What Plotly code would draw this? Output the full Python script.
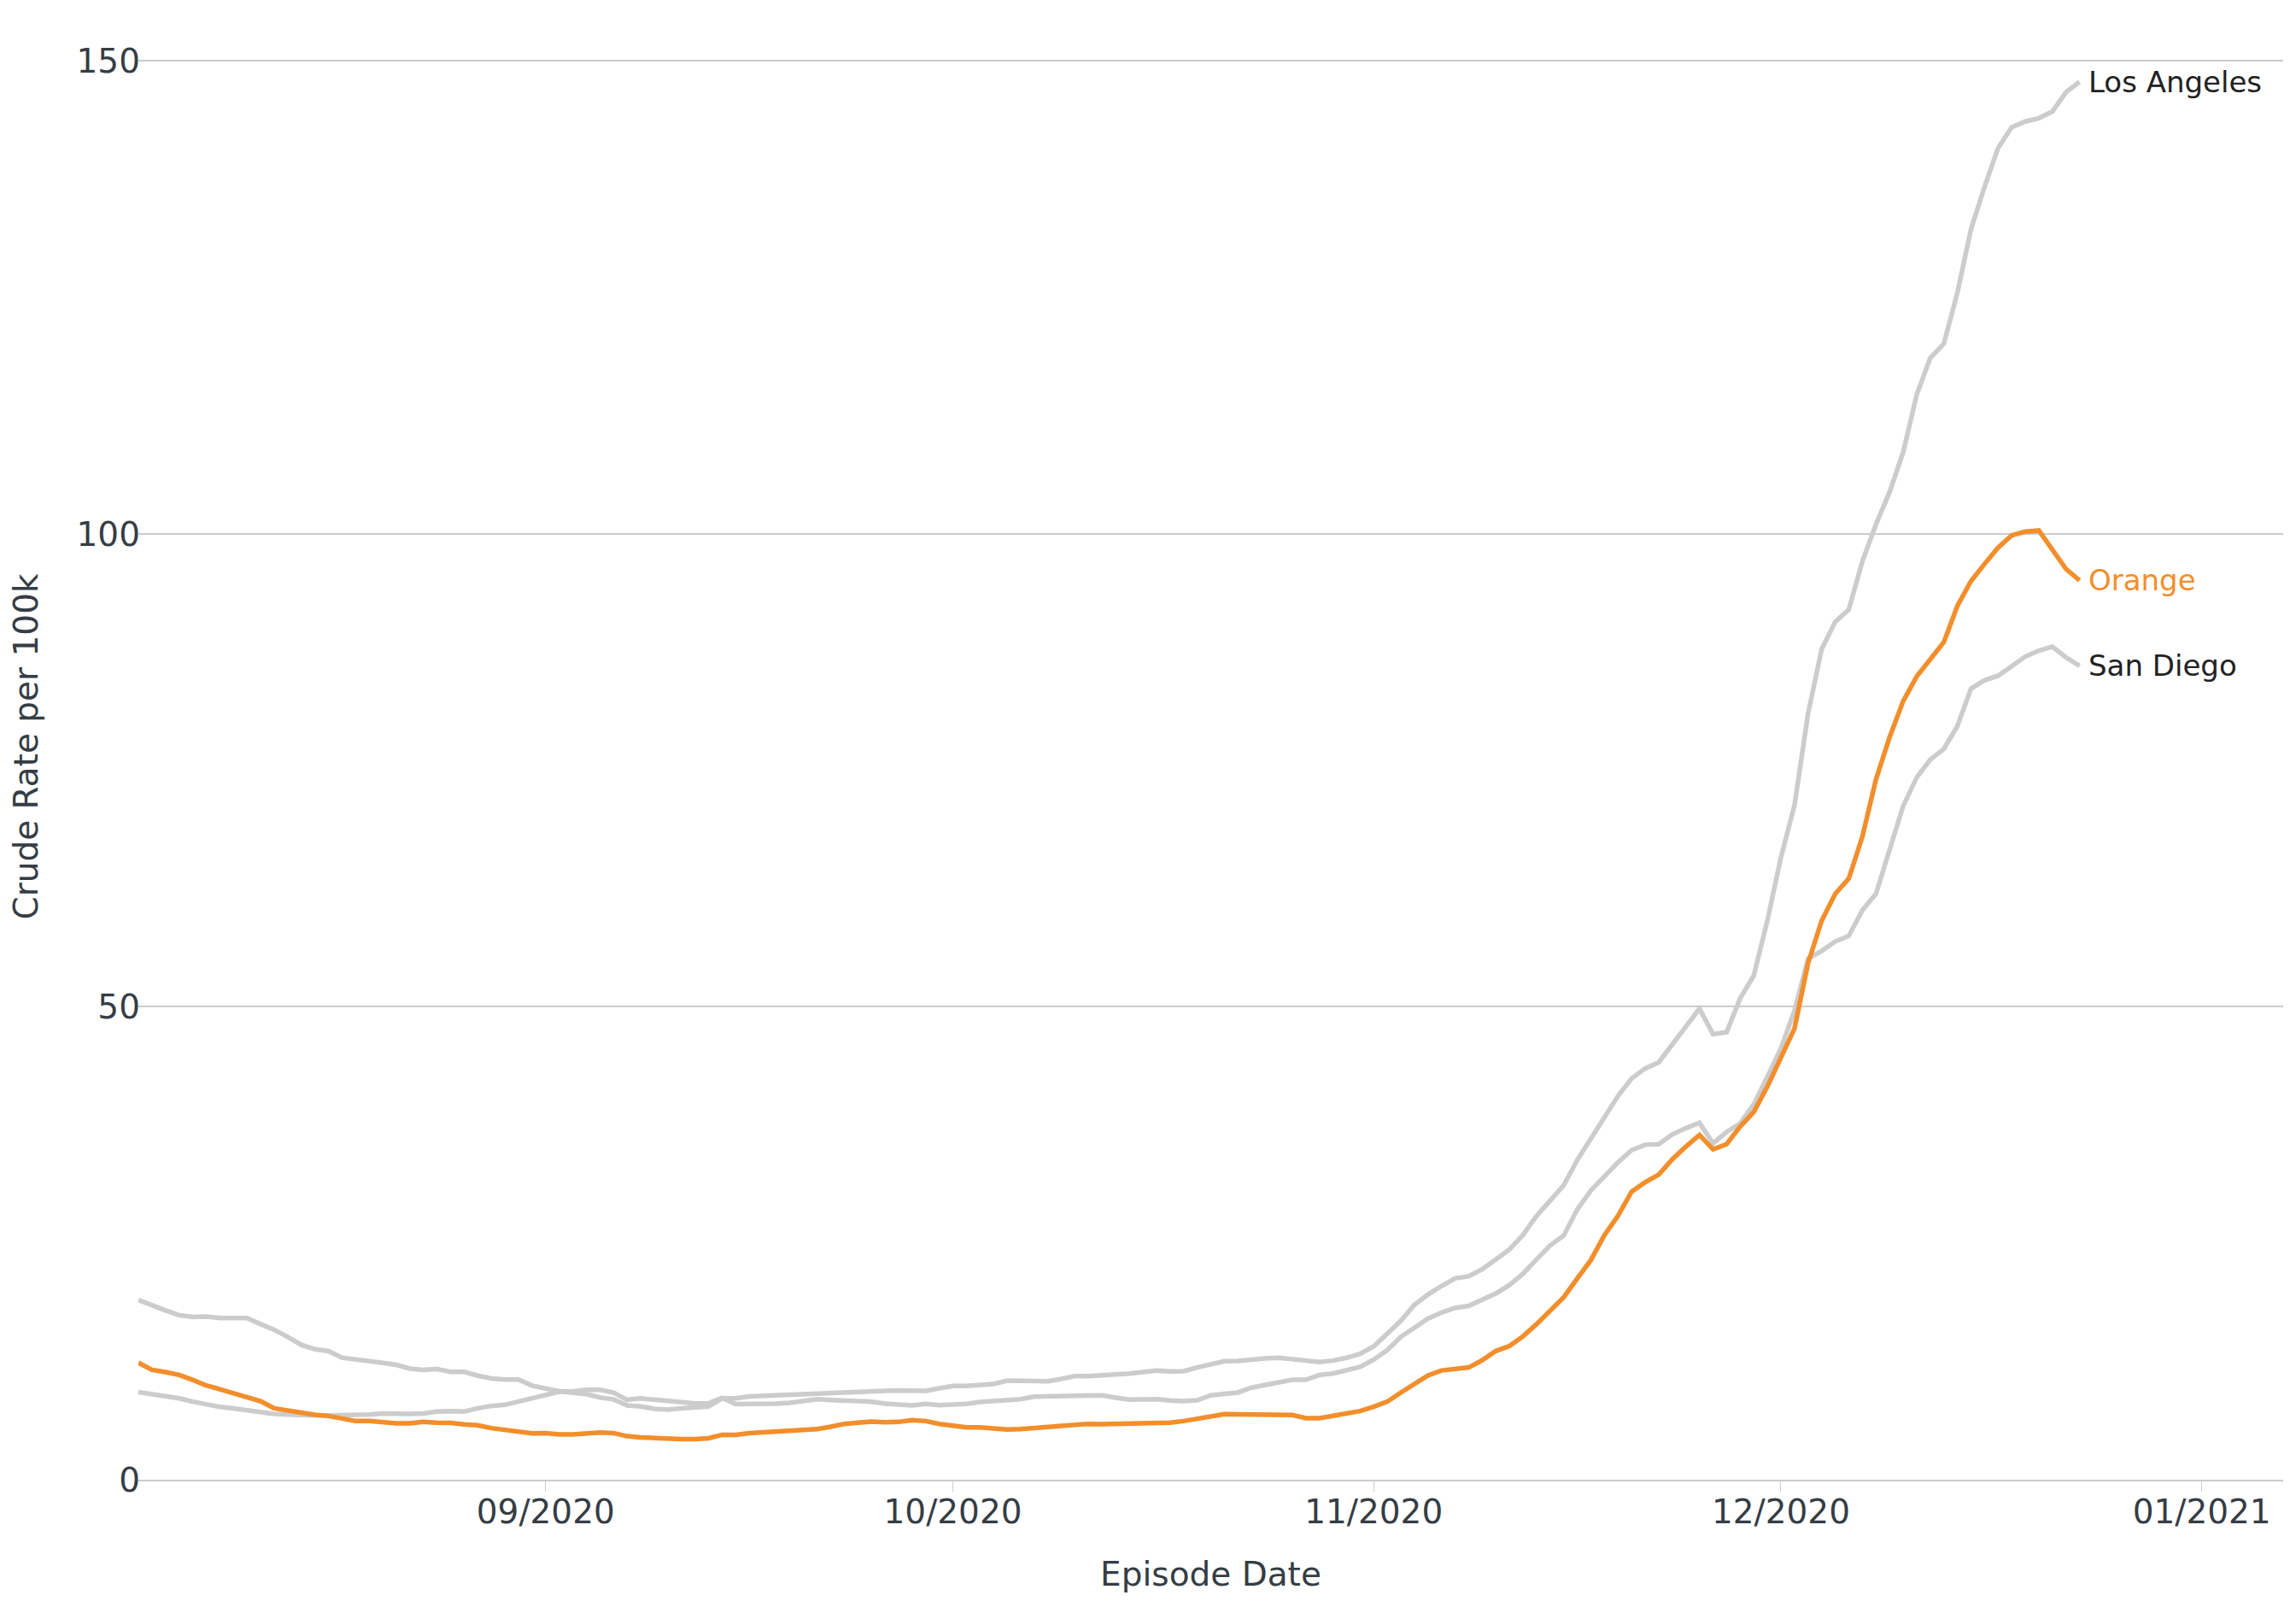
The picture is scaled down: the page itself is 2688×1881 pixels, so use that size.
import pandas as pd
import plotly.graph_objects as go

dates = pd.date_range("2020-08-02", "2020-12-23", freq="D")

los_angeles = [
    19.0, 18.4, 17.9, 17.4, 17.2, 17.25, 17.1, 17.1, 17.1, 16.45,
    15.85, 15.1, 14.25, 13.8, 13.6, 12.9, 12.75, 12.5, 12.35, 12.15,
    11.75, 11.6, 11.7, 11.4, 11.4, 11.0, 10.7, 10.6, 10.6, 9.95,
    9.6, 9.35, 9.2, 9.05, 8.7, 8.5, 7.85, 7.75, 7.5, 7.4,
    7.55, 7.7, 7.75, 8.6, 8.6, 8.8, 8.86, 8.92, 9.0, 9.13,
    9.22, 9.28, 9.22, 9.28, 9.37, 9.4, 9.43, 9.37, 9.4, 9.67,
    9.91, 9.91, 10.03, 10.12, 10.48, 10.48, 10.48, 10.42, 10.66, 10.96,
    10.96, 11.02, 11.17, 11.23, 11.38, 11.54, 11.45, 11.47, 11.87, 12.23,
    12.53, 12.56, 12.74, 12.83, 12.89, 12.68, 12.59, 12.44, 12.59, 12.89,
    13.3, 14.1, 15.45, 16.8, 18.5, 19.58, 20.48, 21.29, 21.51, 22.26,
    23.29, 24.35, 25.87, 27.9, 29.51, 31.13, 33.8, 36.06, 38.45, 40.58,
    42.42, 43.48, 44.13, 45.96, 47.9, 49.8, 47.1, 47.3, 50.9, 53.3,
    59.1, 65.8, 71.3, 81.0, 87.8, 90.7, 92.0, 97.1, 101.0, 104.4,
    108.6, 114.7, 118.6, 120.1, 125.5, 132.2, 136.7, 140.8, 143.0, 143.6,
    143.95, 144.65, 146.7, 147.8,
]

san_diego = [
    9.27, 9.06, 8.85, 8.6, 8.25, 7.92, 7.7, 7.55, 7.34, 7.1,
    6.95, 6.89, 6.8, 6.8, 6.8, 6.8, 6.8, 6.89, 7.0, 6.95,
    6.95, 7.0, 7.2, 7.25, 7.2, 7.55, 7.8, 7.92, 8.25, 8.6,
    8.97, 9.3, 9.36, 9.51, 9.51, 9.21, 8.46, 8.6, 8.46, 8.31,
    8.16, 8.07, 8.07, 8.65, 8.0, 8.0, 8.01, 8.04, 8.13, 8.37,
    8.52, 8.43, 8.37, 8.31, 8.25, 8.04, 7.95, 7.86, 8.01, 7.89,
    7.95, 8.01, 8.22, 8.31, 8.4, 8.52, 8.79, 8.82, 8.82, 8.97,
    8.97, 8.92, 8.67, 8.46, 8.49, 8.52, 8.37, 8.31, 8.4, 8.92,
    9.07, 9.22, 9.73, 9.97, 10.27, 10.57, 10.57, 11.08, 11.23, 11.57,
    11.93, 12.7, 13.7, 15.1, 16.0, 17.03, 17.68, 18.16, 18.38, 19.09,
    19.68, 20.58, 21.77, 23.29, 24.77, 25.81, 28.58, 30.58, 32.06, 33.55,
    34.84, 35.42, 35.48, 36.51, 37.16, 37.74, 35.55, 36.77, 37.68, 39.68,
    42.6, 45.6, 49.6, 55.1, 55.9, 56.9, 57.5, 60.2, 61.94, 66.77,
    71.21, 74.24, 76.13, 77.26, 79.68, 83.63, 84.52, 85.0, 86.05, 87.02,
    87.66, 88.07, 86.94, 86.05,
]

orange = [
    12.37, 11.62, 11.38, 11.08, 10.56, 9.96, 9.57, 9.15, 8.76, 8.31,
    7.55, 7.31, 7.1, 6.86, 6.74, 6.5, 6.2, 6.2, 6.02, 5.96,
    5.96, 6.11, 6.02, 6.0, 5.84, 5.75, 5.45, 5.3, 5.15, 4.9,
    4.93, 4.78, 4.78, 4.93, 5.0, 4.93, 4.6, 4.48, 4.39, 4.39,
    4.3, 4.3, 4.39, 4.75, 4.75, 4.93, 5.0, 5.09, 5.15, 5.24,
    5.36, 5.6, 5.9, 6.02, 6.14, 6.08, 6.11, 6.3, 6.2, 5.9,
    5.72, 5.54, 5.54, 5.45, 5.3, 5.36, 5.48, 5.6, 5.69, 5.9,
    5.9, 5.87, 5.9, 5.9, 5.9, 5.99, 6.02, 6.2, 6.48, 6.72,
    6.93, 6.9, 6.87, 6.87, 6.9, 6.84, 6.51, 6.51, 6.75, 6.96,
    7.26, 7.71, 8.25, 9.22, 10.12, 11.03, 11.55, 11.77, 11.87, 12.64,
    13.61, 14.13, 15.16, 16.45, 17.8, 19.29, 21.29, 23.22, 25.87, 27.9,
    30.45, 31.45, 32.26, 33.87, 35.22, 36.45, 34.93, 35.48, 37.35, 38.87,
    41.56, 44.7, 47.7, 54.6, 59.1, 61.94, 63.55, 67.99, 74.03, 78.47,
    82.3, 84.92, 86.74, 88.55, 92.38, 95.0, 96.82, 98.55, 99.84, 100.24,
    100.36, 98.35, 96.29, 95.08,
]

counties = ["Los Angeles", "San Diego", "Orange"]
series = [los_angeles, san_diego, orange]
line_colors = ["#cccccc", "#cccccc", "#f28e2b"]
label_colors = ["#222222", "#222222", "#f28e2b"]

FONT = "DejaVu Sans"
TEXT = "#353d45"

fig = go.Figure()
for name, vals, col in zip(counties, series, line_colors):
    fig.add_trace(go.Scatter(
        x=dates, y=vals, mode="lines", name=name,
        line=dict(color=col, width=5.5),
        hoverinfo="x+y+name",
    ))

for name, vals, col in zip(counties, series, label_colors):
    fig.add_annotation(
        x=dates[-1], y=vals[-1], text=name, showarrow=False,
        xanchor="left", yanchor="middle", xshift=8,
        font=dict(family=FONT, size=34, color=col),
    )

# page body has an 8px margin, so the figure is sized to fill the window from (8, 8)
fig.update_layout(
    width=2680, height=1873,
    paper_bgcolor="white", plot_bgcolor="white",
    showlegend=False,
    margin=dict(l=154, r=15, t=8, b=149, autoexpand=False),
    font=dict(family=FONT, size=39, color=TEXT),
)
fig.update_xaxes(
    range=["2020-08-02", "2021-01-07"],
    tickformat="%m/%Y", dtick="M1", tick0="2020-09-01",
    showgrid=False, zeroline=False,
    showline=True, linecolor="#cccccc", linewidth=2,
    ticks="outside", ticklen=12, tickwidth=1, tickcolor="#cccccc",
    ticklabelstandoff=-10,
    tickfont=dict(family=FONT, size=39, color=TEXT),
    title=dict(text="Episode Date", font=dict(family=FONT, size=39, color=TEXT), standoff=38),
)
fig.update_yaxes(
    range=[0, 155],
    tickvals=[0, 50, 100, 150],
    showgrid=True, gridcolor="#cccccc", gridwidth=2,
    zeroline=False, showline=False, ticks="",
    ticklabelstandoff=-3,
    tickfont=dict(family=FONT, size=39, color=TEXT),
    title=dict(text="Crude Rate per 100k", font=dict(family=FONT, size=39, color=TEXT), standoff=33),
)

fig.write_html("out.html")
